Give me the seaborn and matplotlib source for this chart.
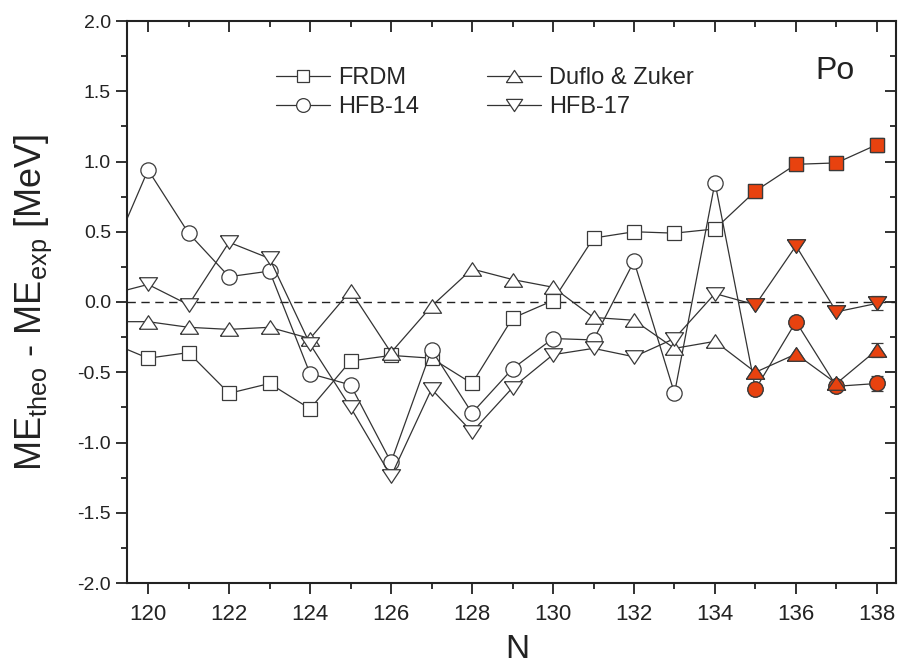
import matplotlib
matplotlib.use("Agg")
import matplotlib.pyplot as plt
from matplotlib.lines import Line2D
from matplotlib.ticker import MultipleLocator
import seaborn as sns

# Neutron numbers of the Po isotopes (119 only sets the line entering the frame)
N = list(range(119, 139))

# ME_theo - ME_exp in MeV for each mass model
frdm = [-0.28, -0.40, -0.36, -0.65, -0.58, -0.76, -0.42, -0.38, -0.40, -0.58,
        -0.115, 0.01, 0.455, 0.50, 0.49, 0.52, 0.79, 0.98, 0.99, 1.12]
hfb14 = [0.27, 0.94, 0.49, 0.18, 0.22, -0.51, -0.59, -1.14, -0.34, -0.79,
         -0.475, -0.26, -0.27, 0.29, -0.65, 0.85, -0.62, -0.14, -0.60, -0.58]
duflo = [-0.14, -0.14, -0.18, -0.195, -0.18, -0.26, 0.08, -0.36, -0.03, 0.235,
         0.16, 0.105, -0.11, -0.13, -0.33, -0.28, -0.50, -0.37, -0.58, -0.34]
hfb17 = [0.05, 0.125, -0.02, 0.425, 0.31, -0.30, -0.75, -1.24, -0.62, -0.925,
         -0.61, -0.375, -0.33, -0.39, -0.26, 0.06, -0.02, 0.40, -0.07, -0.01]

# first newly measured isotope (filled symbols from here on) and its uncertainty
new_from = 135
err_last = 0.05

labels = ["FRDM", "HFB-14", "Duflo & Zuker", "HFB-17"]

sns.set_style("ticks")
plt.rcParams["font.family"] = ["Liberation Sans", "DejaVu Sans"]
plt.rcParams["mathtext.fontset"] = "custom"
plt.rcParams["mathtext.rm"] = "Liberation Sans"
plt.rcParams["mathtext.it"] = "Liberation Sans"

LINE = "#333333"
EDGE = "#3a3a3a"
RED = "#E8420F"

tri_up = [(-1, -0.75), (1, -0.75), (0, 0.75), (-1, -0.75)]
tri_dn = [(-1, 0.75), (1, 0.75), (0, -0.75), (-1, 0.75)]

series = [
    (frdm, "s", 9.5),
    (hfb14, "o", 11),
    (duflo, tri_up, 13),
    (hfb17, tri_dn, 13),
]

fig = plt.figure(figsize=(8.98, 6.66), dpi=100)
ax = fig.add_axes([127 / 898, 1 - 583 / 666, (896 - 127) / 898, (583 - 21) / 666])

ax.axhline(0, color="#222222", lw=1.0, ls=(0, (6, 4)), zorder=1)

idx_new = N.index(new_from)
handles = []
for (vals, mk, ms), lab in zip(series, labels):
    sns.lineplot(x=N, y=vals, ax=ax, color=LINE, lw=0.9, marker=mk,
                 markersize=ms, markerfacecolor="white", markeredgecolor=EDGE,
                 markeredgewidth=0.9, zorder=2)
    ax.errorbar([N[-1]], [vals[-1]], yerr=[err_last], fmt="none",
                ecolor=EDGE, elinewidth=0.9, capsize=4, capthick=0.9, zorder=3)
    sns.scatterplot(x=N[idx_new:], y=vals[idx_new:], ax=ax, marker=mk,
                    s=ms ** 2, color=RED, edgecolor=EDGE, linewidth=0.9,
                    zorder=4, legend=False)
    handles.append(Line2D([], [], color=LINE, lw=0.9, marker=mk,
                          markersize=ms * 0.9, markerfacecolor="white",
                          markeredgecolor=EDGE, markeredgewidth=0.9, label=lab))

ax.set_xlim(119.48, 138.47)
ax.set_ylim(-2.0, 2.0)
ax.xaxis.set_major_locator(MultipleLocator(2))
ax.xaxis.set_minor_locator(MultipleLocator(1))
ax.yaxis.set_major_locator(MultipleLocator(0.5))
ax.yaxis.set_minor_locator(MultipleLocator(0.25))
ax.yaxis.set_major_formatter(matplotlib.ticker.FormatStrFormatter("%.1f"))

for sp in ax.spines.values():
    sp.set_visible(True)
    sp.set_linewidth(1.5)
    sp.set_color("#222222")

ax.tick_params(axis="both", which="major", direction="out", length=8,
               width=1.3, color="#222222", labelcolor="#222222")
ax.tick_params(axis="both", which="minor", direction="out", length=4,
               width=1.3, color="#222222")
ax.tick_params(axis="y", which="both", labelsize=14)
ax.tick_params(axis="x", which="both", labelsize=16, pad=7)
ax.tick_params(which="both", top=True, right=True)

# inward ticks on the top and right spines
for t in ax.xaxis.get_major_ticks() + ax.xaxis.get_minor_ticks():
    t.tick2line.set_marker(matplotlib.lines.TICKDOWN)
for t in ax.yaxis.get_major_ticks() + ax.yaxis.get_minor_ticks():
    t.tick2line.set_marker(matplotlib.lines.TICKLEFT)

ax.set_xlabel("N", fontsize=24, color="#222222")
ax.xaxis.set_label_coords(0.507, -0.09)
ax.set_ylabel(r"ME$_{\mathrm{theo}}$ - ME$_{\mathrm{exp}}$ [MeV]", fontsize=26,
              color="#222222")
ax.yaxis.set_label_coords(-0.095, 0.5)

ax.text(835 / 898, 1 - 71 / 666, "Po", transform=fig.transFigure, fontsize=23,
        ha="center", va="center", color="#222222")

fig.legend(handles=handles, ncol=2, loc="upper left",
           bbox_to_anchor=(276 / 898, 1 - 67 / 666), frameon=False,
           fontsize=17, handlelength=2.3, handletextpad=0.35,
           columnspacing=2.85, labelspacing=0.3, borderpad=0, borderaxespad=0)

fig.savefig("out.png", dpi=100)
